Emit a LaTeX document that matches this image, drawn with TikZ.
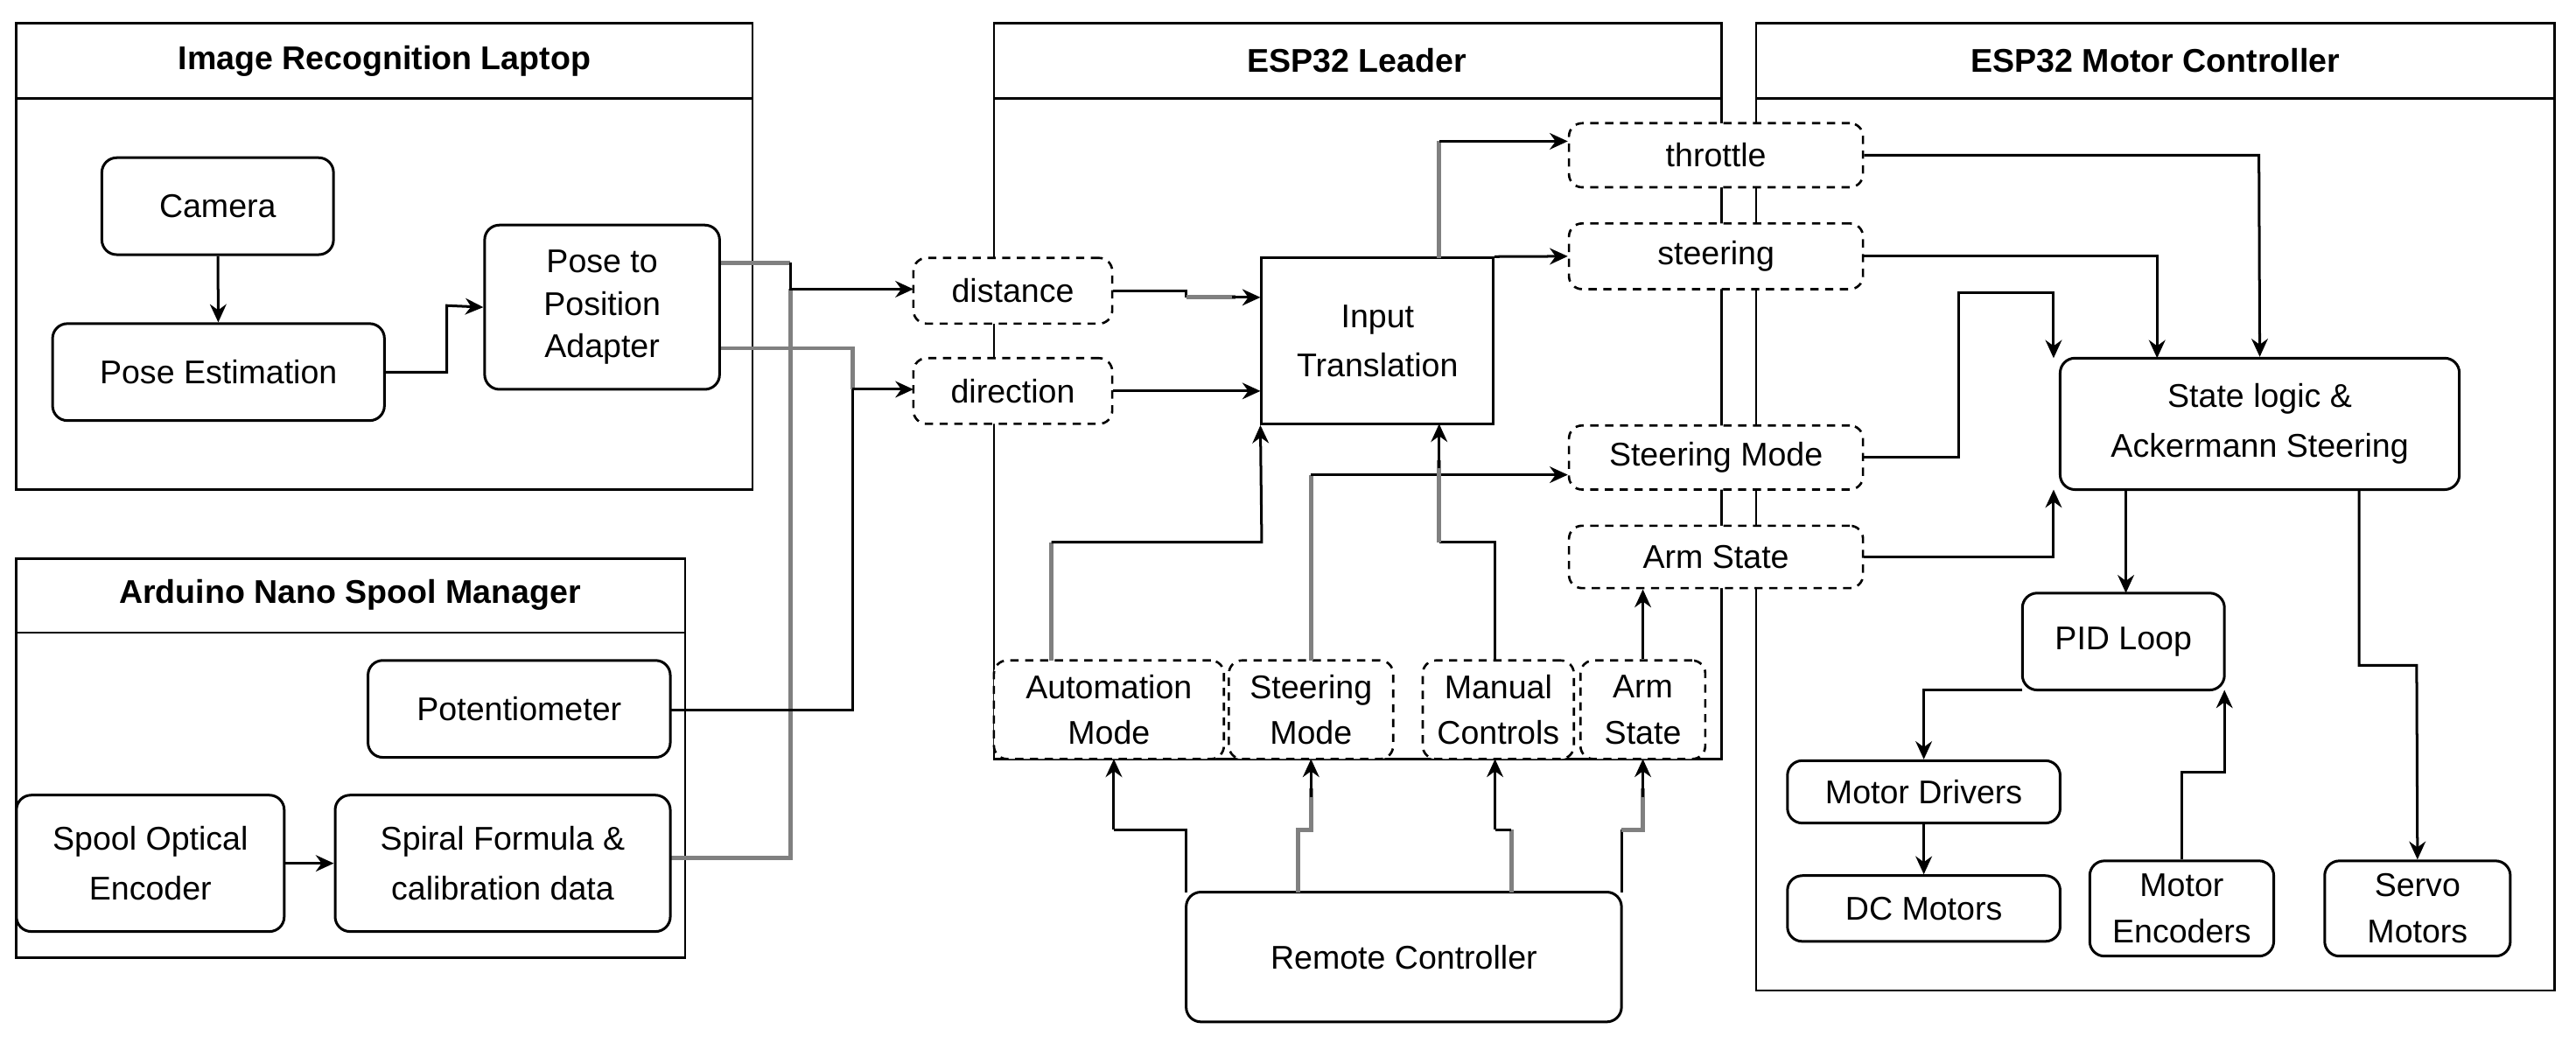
\documentclass[tikz,border=0pt]{standalone}
\usepackage{fontspec}
\setmainfont{Liberation Sans}
\usetikzlibrary{arrows.meta}
\begin{document}
\begin{tikzpicture}[x=1pt,y=-1pt,
  every node/.style={font=\fontsize{20}{24}\selectfont, align=center, inner sep=0pt},
  box/.style={draw, line width=1.6pt, rounded corners=9pt, fill=white},
  dbox/.style={draw, line width=1.4pt, dashed, dash pattern=on 5pt off 4pt, rounded corners=8pt, fill=white},
  sbox/.style={draw, line width=1.6pt, fill=white},
  cont/.style={draw, line width=1.4pt},
  ttl/.style={font=\fontsize{20}{24}\selectfont\bfseries},
  ar/.style={line width=1.6pt, -{Stealth[length=11pt,width=10pt]}},
  ln/.style={line width=1.6pt},
  g/.style={draw=gray, line width=2.6pt}]
\useasboundingbox (0,0) rectangle (1568,639);
% containers
\draw[cont] (10,14) rectangle (458,298); \draw[cont] (10,60) -- (458,60);
\node[ttl] (t1) at (234,37) {Image Recognition Laptop};
\draw[cont] (10,340) rectangle (417,583); \draw[cont] (10,385) -- (417,385);
\node[ttl] (t2) at (213,362) {Arduino Nano Spool Manager};
\draw[cont] (605,14) rectangle (1048,462); \draw[cont] (605,60) -- (1048,60);
\node[ttl] (t3) at (826,37) {ESP32 Leader};
\draw[cont] (1069,14) rectangle (1555,603); \draw[cont] (1069,60) -- (1555,60);
\node[ttl] (t4) at (1312,37) {ESP32 Motor Controller};
% connectors drawn first (behind boxes)
\draw[g] (438,160) -- (481,160);
\draw[g] (408,522) -- (481,522) -- (481,176);
\draw[ar] (481,160) -- (481,176) -- (556,176);
\draw[g] (438,212) -- (519,212) -- (519,237);
\draw[ln] (408,432) -- (519,432) -- (519,237);
\draw[ar] (519,237) -- (556,237);
% nodes
\node[box, minimum width=141pt, minimum height=59pt] (cam) at (132.5,125.5) {Camera};
\node[box, minimum width=202pt, minimum height=59pt] (pe) at (133,226.5) {Pose Estimation};
\node[box, minimum width=143pt, minimum height=100pt] (ad) at (366.5,187) {Pose to\\[2pt]Position\\[2pt]Adapter};
\node[box, minimum width=184pt, minimum height=59pt] (pot) at (316,431.5) {Potentiometer};
\node[box, minimum width=163pt, minimum height=83pt] (soe) at (91.5,525.5) {Spool Optical\\[6pt]Encoder};
\node[box, minimum width=204pt, minimum height=83pt] (sf) at (306,525.5) {Spiral Formula \&\\[6pt]calibration data};
\node[dbox, minimum width=121pt, minimum height=40pt] (dist) at (616.5,177) {distance};
\node[dbox, minimum width=121pt, minimum height=40pt] (dir) at (616.5,238) {direction};
\node[sbox, minimum width=141pt, minimum height=101pt] (it) at (838.5,207.5) {Input\\[6pt]Translation};
\draw[ln] (1048,60) -- (1048,462);
\node[dbox, minimum width=179pt, minimum height=39pt] (thr) at (1044.5,94.5) {throttle};
\node[dbox, minimum width=179pt, minimum height=40pt] (str) at (1044.5,156) {steering};
\node[dbox, minimum width=179pt, minimum height=39pt] (sm) at (1044.5,278.5) {Steering Mode};
\node[dbox, minimum width=179pt, minimum height=38pt] (as) at (1044.5,339) {Arm State};
\node[dbox, minimum width=140pt, minimum height=60pt] (am2) at (675,432) {Automation\\[4pt]Mode};
\node[dbox, minimum width=100pt, minimum height=60pt] (sm2) at (798,432) {Steering\\[4pt]Mode};
\node[dbox, minimum width=92pt, minimum height=60pt] (mc2) at (912,432) {Manual\\[4pt]Controls};
\node[dbox, minimum width=76pt, minimum height=60pt] (as2) at (1000,432) {Arm\\[4pt]State};
\node[box, minimum width=265pt, minimum height=79pt] (rc) at (854.5,582.5) {Remote Controller};
\node[box, minimum width=243pt, minimum height=80pt] (sl) at (1375.5,258) {State logic \&\\[6pt]Ackermann Steering};
\node[box, minimum width=123pt, minimum height=59pt] (pid) at (1292.5,390.5) {PID Loop};
\node[box, minimum width=166pt, minimum height=38pt] (md) at (1171,482) {Motor Drivers};
\node[box, minimum width=166pt, minimum height=40pt] (dc) at (1171,553) {DC Motors};
\node[box, minimum width=112pt, minimum height=58pt] (me) at (1328,553) {Motor\\[4pt]Encoders};
\node[box, minimum width=113pt, minimum height=58pt] (sv) at (1471.5,553) {Servo\\[4pt]Motors};
% connectors
\draw[ar] (cam) -- (pe);
\draw[ar] (pe.east) -- (272,226.5) -- (272,186) -- (ad.west);
\draw[ar] (soe) -- (sf);
\draw[ln] (dist.east) -- (722,177) -- (722,181);
\draw[g] (722,181) -- (752,181);
\draw[ar] (750,181) -- (it.west |- 0,181);
\draw[ar] (dir.east) -- (it.west |- dir.east);
\draw[g] (876,157) -- (876,86);
\draw[ar] (876,86) -- (thr.west |- 0,86);
\draw[ar] (it.north east) -- (str.west);
\draw[g] (640,402) -- (640,330);
\draw[ar] (640,330) -- (768,330) -- (it.south west);
\draw[g] (798,402) -- (798,289);
\draw[ar] (798,289) -- (sm.west |- 0,289);
\draw[ln] (910,402) -- (910,330) -- (876,330);
\draw[g] (876,330) -- (876,280);
\draw[ar] (876,285) -- (876,258);
\draw[ar] (as2.north) -- (as.south -| as2.north);
\draw[ln] (722,543) -- (722,505) -- (678,505);
\draw[ar] (678,505) -- (678,462);
\draw[g] (790,543) -- (790,505) -- (798,505) -- (798,480);
\draw[ar] (798,485) -- (798,462);
\draw[g] (920,543) -- (920,505);
\draw[ln] (920,505) -- (910,505);
\draw[ar] (910,505) -- (910,462);
\draw[ln] (987,543) -- (987,505);
\draw[g] (987,505) -- (1000,505) -- (1000,480);
\draw[ar] (1000,485) -- (1000,462);
\draw[ar] (thr.east) -- (1375,94.5) -- (sl.north);
\draw[ar] (str.east) -- (1313,156) -- (1313,218);
\draw[ar] (sm.east) -- (1192,278.5) -- (1192,178) -- (1250,178) -- (1250,218);
\draw[ar] (as.east) -- (1250,339) -- (1250,298);
\draw[ar] (1294,298) -- (1294,361);
\draw[ar] (1436,298) -- (1436,405) -- (1471,405) -- (sv.north);
\draw[ar] (1231,420) -- (1171,420) -- (md.north);
\draw[ar] (md) -- (dc);
\draw[ar] (me.north) -- (1328,470) -- (1354,470) -- (1354,420);
\end{tikzpicture}
\end{document}
